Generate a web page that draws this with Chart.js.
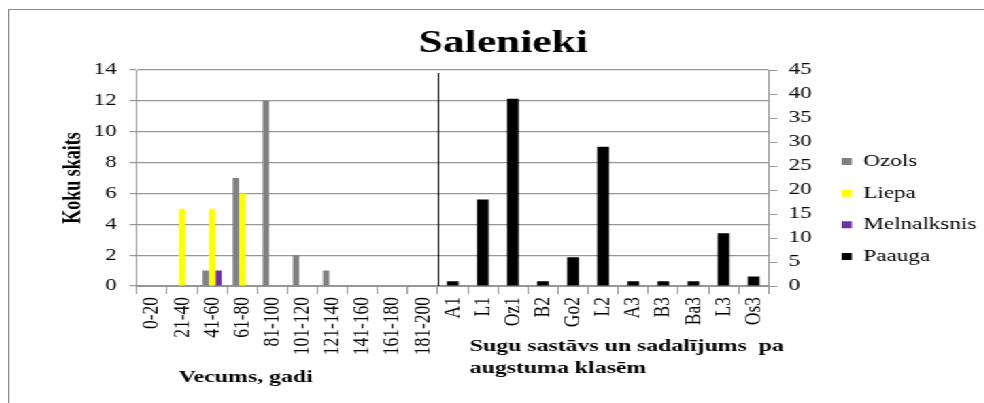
<!DOCTYPE html>
<html>
<head>
<meta charset="utf-8">
<title>Salenieki</title>
<script src="https://cdn.jsdelivr.net/npm/chart.js@4.4.1/dist/chart.umd.min.js"></script>
<style>
  html, body { margin: 0; padding: 0; background: #fff; width: 984px; height: 403px; overflow: hidden; }
  /* the source picture is stretched sideways, so the whole chart box is too */
  #frame {
    position: absolute; left: 8px; top: 9px;
    width: 728px; height: 393px;
    border-left: 1px solid #8c8c8c; border-top: 1px solid #8c8c8c;
    transform: scaleX(1.36); transform-origin: 0 0;
  }
  #frame canvas { display: block; }
</style>
</head>
<body>
<div id="frame"><canvas id="chart" width="728" height="393"></canvas></div>
<script>
'use strict';

// data

let chartTitle = 'Salenieki';

// age groups (left axis) and height classes (right axis)
let ageLabels = ['0-20', '21-40', '41-60', '61-80', '81-100', '101-120', '121-140', '141-160', '161-180', '181-200'];
let classLabels = ['A1', 'L1', 'Oz1', 'B2', 'Go2', 'L2', 'A3', 'B3', 'Ba3', 'L3', 'Os3'];

let ozolsCounts = [0, 0, 1, 7, 12, 2, 1, 0, 0, 0];
let liepaCounts = [0, 5, 5, 6, 0, 0, 0, 0, 0, 0];
let melnalksnisCounts = [0, 0, 1, 0, 0, 0, 0, 0, 0, 0];
let paaugaCounts = [1, 18, 39, 1, 6, 29, 1, 1, 1, 11, 2];

// axis ticks
let leftMax = 14;
let leftStep = 2;
let rightMax = 45;
let rightStep = 5;

let ageAxisNote = 'Vecums, gadi';
let classAxisNote = ['Sugu sastāvs un sadalījums  pa', 'augstuma klasēm'];

// one category list for both halves, each series padded with gaps
let allLabels = ageLabels.concat(classLabels);
let noAges = ageLabels.map(() => null);
let noClasses = classLabels.map(() => null);

const serif = "'Liberation Serif', 'Times New Roman', serif";
Chart.defaults.font.family = serif;
Chart.defaults.color = '#000';

let gridGrey = '#969696';

// divider between the two halves + the two free text boxes under the axis
const sectionNotes = {
  id: 'sectionNotes',
  afterDatasetsDraw(chart) {
    let ctx = chart.ctx;
    let xs = chart.scales.x;
    let area = chart.chartArea;
    let last = ageLabels.length - 1;
    let divX = Math.round((xs.getPixelForValue(last) + xs.getPixelForValue(last + 1)) / 2) + 0.5;

    ctx.save();
    ctx.strokeStyle = '#000';
    ctx.lineWidth = 1;
    ctx.beginPath();
    ctx.moveTo(divX, area.top + 3);
    ctx.lineTo(divX, area.bottom);
    ctx.stroke();

    ctx.fillStyle = '#000';
    ctx.font = 'bold 17.5px ' + serif;
    ctx.textBaseline = 'alphabetic';
    ctx.textAlign = 'center';
    ctx.fillText(ageAxisNote, 173.8, area.bottom + 95.7);
    ctx.textAlign = 'left';
    ctx.fillText(classAxisNote[0], divX + 23, area.bottom + 64.7);
    ctx.fillText(classAxisNote[1], divX + 23, area.bottom + 87.3);
    ctx.restore();
  }
};

// Liepa and Paauga share the middle slot (different value axes, so nothing adds up)
const chartConfig = {
  type: 'bar',
  data: {
    labels: allLabels,
    datasets: [
      {
        label: 'Ozols',
        data: ozolsCounts.concat(noClasses),
        backgroundColor: '#808080',
        yAxisID: 'y', stack: 'oz',
        categoryPercentage: 0.63, barPercentage: 1
      },
      {
        label: 'Liepa',
        data: liepaCounts.concat(noClasses),
        backgroundColor: '#ffff00',
        yAxisID: 'y', stack: 'mid',
        categoryPercentage: 0.63, barPercentage: 1
      },
      {
        label: 'Melnalksnis',
        data: melnalksnisCounts.concat(noClasses),
        backgroundColor: '#7030a0',
        yAxisID: 'y', stack: 'mel',
        categoryPercentage: 0.63, barPercentage: 1
      },
      {
        label: 'Paauga',
        data: noAges.concat(paaugaCounts),
        backgroundColor: '#000000',
        yAxisID: 'y2', stack: 'mid',
        categoryPercentage: 1.17, barPercentage: 1
      }
    ]
  },
  options: {
    responsive: false,
    animation: false,
    events: [],
    layout: { padding: { left: 12.1, right: 13.7, top: 5, bottom: 0 } },
    plugins: {
      title: {
        display: true,
        text: chartTitle,
        color: '#000',
        font: { size: 32, weight: 'bold' },
        padding: { top: 9.3, bottom: 7.3 }
      },
      legend: {
        position: 'right',
        labels: {
          boxWidth: 7.5,
          boxHeight: 7,
          padding: 14.7,
          color: '#000',
          font: { size: 17 }
        }
      },
      tooltip: { enabled: false }
    },
    scales: {
      x: {
        type: 'category',
        position: 'bottom',
        offset: true,
        grid: { drawOnChartArea: false, drawTicks: true, tickLength: 8, color: gridGrey, offset: true },
        border: { color: gridGrey },
        ticks: { autoSkip: false, minRotation: 90, maxRotation: 90, padding: 3, font: { size: 17.5 } },
        afterFit(scale) { scale.height = 117; }
      },
      y: {
        position: 'left',
        min: 0,
        max: leftMax,
        stacked: false,
        ticks: { stepSize: leftStep, padding: 9.3, font: { size: 17 } },
        grid: { color: gridGrey, lineWidth: 1.2, tickLength: 5.4 },
        border: { color: gridGrey },
        title: {
          display: true,
          text: 'Koku skaits',
          color: '#000',
          font: { size: 18, weight: 'bold' },
          padding: { top: 24.1, bottom: 0 }
        },
        afterFit(scale) { scale.width = 81.7; }
      },
      y2: {
        position: 'right',
        min: 0,
        max: rightMax,
        stacked: false,
        ticks: { stepSize: rightStep, padding: 8.1, font: { size: 17 } },
        grid: { drawOnChartArea: false, color: gridGrey, tickLength: 6.6 },
        border: { color: gridGrey },
        afterFit(scale) { scale.width = 39.0; }
      }
    }
  },
  plugins: [sectionNotes]
};

new Chart(document.getElementById('chart'), chartConfig);
</script>
</body>
</html>
